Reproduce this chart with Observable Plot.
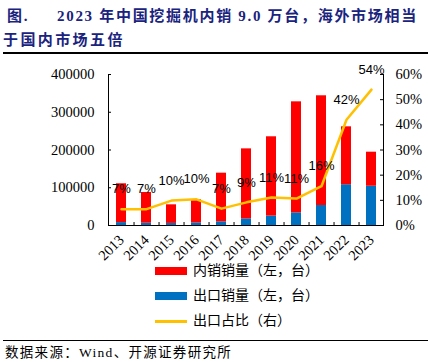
<!DOCTYPE html>
<html><head><meta charset="utf-8">
<script src="https://cdn.jsdelivr.net/npm/d3@7"></script>
<script src="https://cdn.jsdelivr.net/npm/@observablehq/plot@0.6"></script>
<style>
body{margin:0;background:#fff;}
#wrap{position:relative;width:428px;height:362px;overflow:hidden;background:#fff;}
.t{position:absolute;white-space:nowrap;font-family:"Liberation Serif","Noto Sans CJK SC",serif;font-weight:bold;font-size:15px;color:#1a237e;letter-spacing:1.7px;line-height:18px;}
.rule{position:absolute;left:3px;width:425px;background:#000;}
.lg{position:absolute;font-family:"Liberation Serif","Noto Sans CJK SC",serif;font-size:14px;line-height:16px;color:#000;white-space:nowrap;}
.sw{position:absolute;}
#chart{position:absolute;left:0;top:56px;}
.src{position:absolute;left:5px;top:345px;font-family:"Liberation Serif","Noto Sans CJK SC",serif;font-size:13.5px;line-height:16px;letter-spacing:1.3px;white-space:nowrap;color:#000;}
</style></head><body>
<div id="wrap">
  <div id="chart"></div>
  <div class="t" style="left:7px;top:7px">图.</div>
  <div class="t" style="left:57px;top:7px">2023 年中国挖掘机内销 9.0 万台，海外市场相当</div>
  <div class="t" style="left:3px;top:31px;letter-spacing:2.4px">于国内市场五倍</div>
  <div class="rule" style="top:52px;height:1.5px"></div>
  <div class="sw" style="left:155px;top:267px;width:32px;height:8px;background:#FF0000"></div>
  <div class="lg" style="left:193px;top:263px">内销销量（左，台）</div>
  <div class="sw" style="left:155px;top:292px;width:32px;height:8px;background:#0070C0"></div>
  <div class="lg" style="left:193px;top:288px">出口销量（左，台）</div>
  <div class="sw" style="left:155px;top:320px;width:32px;height:2.5px;background:#FFC000"></div>
  <div class="lg" style="left:193px;top:313px">出口占比（右）</div>
  <div class="rule" style="top:340px;height:1.3px"></div>
  <div class="src">数据来源：Wind、开源证券研究所</div>
</div>
<script>
const years = ["2013","2014","2015","2016","2017","2018","2019","2020","2021","2022","2023"];
const exportSales = [7700, 6100, 5500, 6900, 9700, 17500, 25000, 33500, 53000, 108000, 104000];
const domesticSales = [102800, 81300, 49300, 61100, 128900, 185500, 210000, 294100, 290600, 153400, 90200];
const exportShare = [6.5, 6.5, 9.9, 10.4, 6.7, 9.2, 11.1, 10.7, 15.6, 42.0, 54.0];
const leftTicks = [0, 100000, 200000, 300000, 400000];
const rightTicks = [0, 10, 20, 30, 40, 50, 60];

const yMax = 400000, pMax = 60;
const rows = years.map((y, i) => ({year: y, exp: exportSales[i], dom: domesticSales[i], share: exportShare[i]}));
const pct = p => p / pMax * yMax;

const W = 428, H = 212, mL = 108, mR = 45, mT = 18, mB = 43;
const innerW = W - mL - mR, innerH = H - mT - mB;
const pIn = 0.6, pOut = 0.28;
const step = innerW / (years.length - pIn + 2 * pOut);

const chart = Plot.plot({
  width: W, height: H,
  marginLeft: mL, marginRight: mR, marginTop: mT, marginBottom: mB,
  style: {fontFamily: "Liberation Serif", fontSize: "14.5px", color: "#000", background: "transparent"},
  x: {type: "band", domain: years, paddingInner: pIn, paddingOuter: pOut, label: null},
  y: {domain: [0, yMax], label: null},
  marks: [
    Plot.barY(rows, {x: "year", y1: 0, y2: "exp", fill: "#0070C0"}),
    Plot.barY(rows, {x: "year", y1: "exp", y2: d => d.exp + d.dom, fill: "#FF0000"}),
    Plot.line(rows, {x: "year", y: d => pct(d.share), stroke: "#FFC000", strokeWidth: 2.5}),
    Plot.text(rows, {x: "year", y: d => pct(d.share), text: d => Math.round(d.share) + "%", dy: -20,
      fontFamily: "Liberation Sans", fontSize: 13, fill: "#000"}),
    Plot.axisY({anchor: "left", ticks: leftTicks, tickSize: 0, tickPadding: 14, tickFormat: d => String(d), label: null}),
    Plot.axisY({anchor: "right", ticks: rightTicks.map(pct), tickSize: 0, tickPadding: 12,
      tickFormat: v => Math.round(v / yMax * pMax) + "%", label: null}),
    Plot.ruleY(leftTicks, {y: d => d, insetRight: innerW - 3, stroke: "#000"}),
    Plot.ruleY(rightTicks.map(pct), {y: d => d, insetLeft: innerW - 3, stroke: "#000"}),
    Plot.ruleX(years.slice(0, -1), {x: d => d, dx: step / 2, insetTop: innerH - 3, stroke: "#000"}),
    Plot.axisX({tickRotate: -45, tickSize: 0, tickPadding: 12, label: null}),
    Plot.frame({anchor: "left", stroke: "#000"}),
    Plot.frame({anchor: "right", stroke: "#000"}),
    Plot.frame({anchor: "bottom", stroke: "#000"})
  ]
});
document.getElementById("chart").appendChild(chart);
</script>
</body></html>
